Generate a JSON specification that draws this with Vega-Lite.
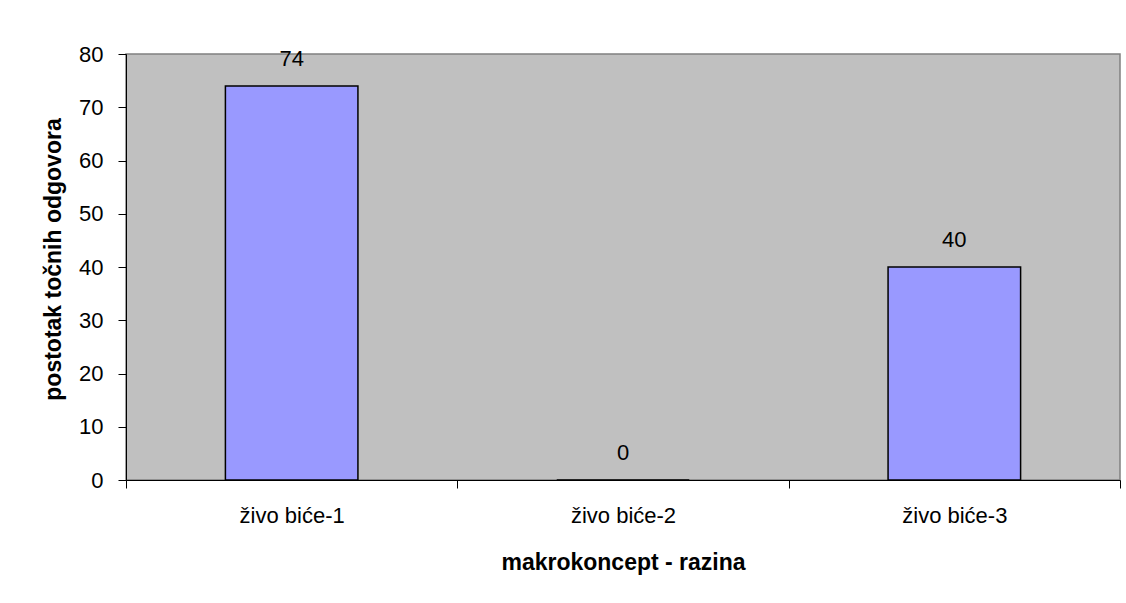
{
  "$schema": "https://vega.github.io/schema/vega-lite/v6.json",
  "width": 994,
  "height": 426,
  "autosize": {"type": "none"},
  "padding": {"left": 126, "top": 54, "right": 6, "bottom": 123},
  "background": "white",
  "config": {
    "font": "Liberation Sans",
    "view": {"stroke": "#808080", "strokeWidth": 1.5, "fill": "#C0C0C0"},
    "axis": {
      "domainColor": "black",
      "domainWidth": 1,
      "tickColor": "black",
      "tickWidth": 1,
      "tickSize": 8,
      "grid": false,
      "labelFont": "Liberation Sans",
      "labelFontSize": 22,
      "labelColor": "black",
      "titleFont": "Liberation Sans",
      "titleFontSize": 23,
      "titleFontWeight": "bold",
      "titleColor": "black"
    }
  },
  "data": {
    "values": [
      {"kategorija": "živo biće-1", "postotak": 74},
      {"kategorija": "živo biće-2", "postotak": 0},
      {"kategorija": "živo biće-3", "postotak": 40}
    ]
  },
  "encoding": {
    "x": {
      "field": "kategorija",
      "type": "nominal",
      "sort": null,
      "scale": {"paddingInner": 0, "paddingOuter": 0},
      "axis": {
        "title": "makrokoncept - razina",
        "labelAngle": 0,
        "tickBand": "extent",
        "labelPadding": 17,
        "titleY": 82,
        "titleBaseline": "middle"
      }
    }
  },
  "layer": [
    {
      "mark": {"type": "bar", "width": {"band": 0.4}, "fill": "#9999FF", "stroke": "black", "strokeWidth": 1.5},
      "encoding": {
        "y": {
          "field": "postotak",
          "type": "quantitative",
          "scale": {"domain": [0, 80], "nice": false},
          "axis": {
            "title": "postotak točnih odgovora",
            "values": [0, 10, 20, 30, 40, 50, 60, 70, 80],
            "labelPadding": 15,
            "titleX": -73,
            "titleY": 205,
            "titleBaseline": "middle"
          }
        }
      }
    },
    {
      "mark": {"type": "text", "baseline": "middle", "dy": -27, "fontSize": 22, "font": "Liberation Sans", "color": "black"},
      "encoding": {
        "y": {"field": "postotak", "type": "quantitative"},
        "text": {"field": "postotak", "type": "quantitative"}
      }
    }
  ]
}
